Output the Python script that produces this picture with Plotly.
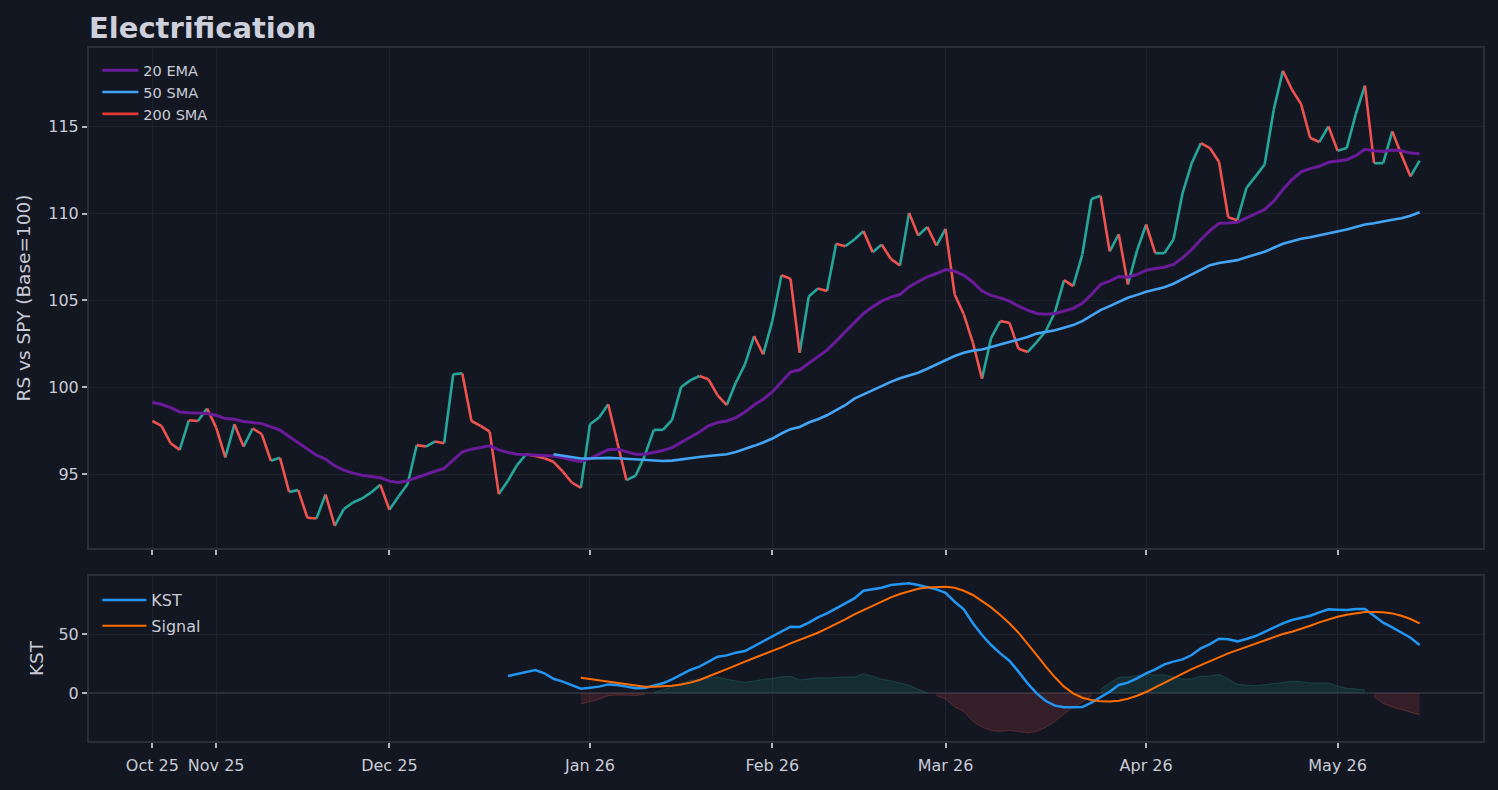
import plotly.graph_objects as go
from plotly.subplots import make_subplots

# Trading-day index, Oct 23 2025 .. May 14 2026
tick_pos = [0, 7, 26, 48, 68, 87, 109, 130]
tick_labels = ['Oct 25', 'Nov 25', 'Dec 25', 'Jan 26', 'Feb 26', 'Mar 26', 'Apr 26', 'May 26']

# Relative strength vs SPY (base = 100)
rs = [98.06, 97.78, 96.78, 96.40, 98.10, 98.06, 98.78, 97.68, 95.96, 97.87,
      96.59, 97.63, 97.30, 95.77, 95.94, 93.98, 94.08, 92.49, 92.45, 93.83,
      92.03, 92.99, 93.37, 93.60, 93.95, 94.39, 92.95, 93.72, 94.43, 96.67,
      96.59, 96.88, 96.78, 100.75, 100.80, 98.06, 97.78, 97.45, 93.85, 94.62,
      95.52, 96.15, 96.05, 95.92, 95.71, 95.16, 94.52, 94.21, 97.87, 98.26,
      99.02, 96.82, 94.66, 94.91, 96.05, 97.55, 97.55, 98.12, 100.02, 100.40,
      100.65, 100.46, 99.54, 98.98, 100.27, 101.32, 102.95, 101.90, 103.81, 106.45,
      106.25, 101.99, 105.23, 105.69, 105.54, 108.26, 108.12, 108.51, 108.99, 107.78,
      108.22, 107.39, 107.01, 110.04, 108.74, 109.23, 108.16, 109.12, 105.34, 104.20,
      102.57, 100.50, 102.85, 103.81, 103.72, 102.22, 102.03, 102.60, 103.24, 104.33,
      106.17, 105.82, 107.64, 110.84, 111.03, 107.83, 108.81, 105.92, 107.87, 109.37,
      107.72, 107.72, 108.51, 111.18, 112.90, 114.05, 113.77, 112.97, 109.79, 109.62,
      111.47, 112.14, 112.82, 115.98, 118.22, 117.13, 116.30, 114.35, 114.12, 115.02,
      113.62, 113.77, 115.73, 117.36, 112.90, 112.90, 114.73, 113.39, 112.14, 113.05]

ema20 = [99.12, 99.02, 98.83, 98.58, 98.54, 98.51, 98.49, 98.39, 98.20, 98.16,
         98.03, 97.97, 97.91, 97.72, 97.53, 97.17, 96.82, 96.44, 96.09, 95.86,
         95.48, 95.23, 95.06, 94.94, 94.85, 94.79, 94.60, 94.52, 94.62, 94.81,
         95.00, 95.17, 95.33, 95.82, 96.28, 96.44, 96.53, 96.63, 96.40, 96.25,
         96.15, 96.13, 96.11, 96.09, 96.05, 95.96, 95.82, 95.73, 95.90, 96.15,
         96.40, 96.44, 96.28, 96.15, 96.15, 96.25, 96.36, 96.53, 96.82, 97.11,
         97.43, 97.78, 97.97, 98.06, 98.26, 98.58, 98.98, 99.31, 99.73, 100.30,
         100.88, 101.01, 101.40, 101.80, 102.14, 102.66, 103.18, 103.72, 104.25, 104.63,
         104.96, 105.19, 105.34, 105.79, 106.07, 106.36, 106.55, 106.78, 106.69, 106.44,
         106.05, 105.54, 105.29, 105.15, 104.96, 104.67, 104.44, 104.25, 104.20, 104.25,
         104.39, 104.54, 104.83, 105.34, 105.92, 106.11, 106.38, 106.34, 106.49, 106.74,
         106.84, 106.91, 107.07, 107.45, 107.93, 108.51, 109.02, 109.44, 109.46, 109.50,
         109.75, 109.98, 110.23, 110.71, 111.38, 111.95, 112.40, 112.59, 112.72, 112.95,
         113.01, 113.10, 113.33, 113.70, 113.62, 113.58, 113.66, 113.62, 113.48, 113.45]

sma50 = [None] * 44 + [
    96.15, 96.07, 95.99, 95.90, 95.90, 95.94, 95.94, 95.92, 95.88, 95.84,
    95.80, 95.78, 95.76, 95.78, 95.86, 95.92, 95.99, 96.05, 96.09, 96.15,
    96.28, 96.44, 96.63, 96.82, 97.05, 97.34, 97.59, 97.72, 97.97, 98.16,
    98.39, 98.68, 98.97, 99.35, 99.60, 99.85, 100.08, 100.31, 100.52, 100.69,
    100.84, 101.07, 101.32, 101.55, 101.80, 101.99, 102.11, 102.18, 102.32, 102.47,
    102.60, 102.76, 102.89, 103.09, 103.18, 103.28, 103.43, 103.58, 103.81, 104.14,
    104.44, 104.67, 104.90, 105.15, 105.32, 105.50, 105.63, 105.76, 105.96, 106.23,
    106.49, 106.78, 107.03, 107.16, 107.26, 107.32, 107.49, 107.64, 107.80, 108.03,
    108.26, 108.41, 108.55, 108.64, 108.74, 108.85, 108.95, 109.08, 109.23, 109.37,
    109.44, 109.52, 109.64, 109.73, 109.87, 110.08]

sma200 = [None] * 140  # not enough history yet

kst = [None] * 39 + [
    14.4, 16.1, 18.4, 19.5, 16.7, 12.1, 9.6, 6.8, 3.7, 4.5,
    5.4, 7.3, 6.8, 5.4, 4.0, 4.2, 5.9, 8.2, 11.6, 15.3,
    19.5, 22.3, 26.3, 30.8, 31.9, 34.2, 35.6, 39.8, 44.1, 47.7,
    52.5, 56.2, 56.0, 59.6, 64.1, 67.5, 71.8, 76.0, 80.2, 86.7,
    88.1, 89.3, 91.5, 92.1, 93.0, 91.5, 89.5, 87.9, 85.0, 77.4,
    71.0, 59.1, 49.2, 40.7, 33.6, 27.4, 18.1, 8.2, -0.3, -6.8,
    -10.7, -12.1, -12.1, -11.9, -8.2, -3.7, 1.1, 6.8, 8.8, 12.4,
    16.7, 20.1, 24.3, 26.6, 28.5, 32.2, 37.9, 41.5, 46.0, 45.5,
    43.8, 45.8, 48.3, 51.9, 55.6, 59.1, 61.9, 63.8, 65.5, 68.4,
    70.9, 70.6, 70.3, 71.2, 71.2, 65.5, 59.6, 55.6, 51.4, 46.9,
    40.7]

signal = [None] * 47 + [
    13.0, 11.9, 10.7, 9.6, 8.5, 7.3, 6.2, 5.4, 5.4, 5.6,
    6.2, 7.3, 8.8, 11.0, 13.8, 17.2, 20.3, 23.7, 26.6, 29.7,
    32.5, 35.3, 38.7, 42.1, 44.9, 47.7, 51.1, 54.8, 58.5, 62.4,
    66.7, 70.3, 74.0, 77.7, 81.1, 83.9, 86.4, 88.4, 89.5, 90.1,
    90.1, 89.3, 86.7, 83.1, 78.2, 72.6, 66.1, 59.1, 51.1, 42.1,
    32.2, 22.3, 13.3, 5.4, -0.3, -4.0, -5.9, -7.1, -7.3, -6.5,
    -4.8, -2.3, 0.8, 4.8, 8.8, 13.0, 16.7, 20.3, 23.7, 27.1,
    30.2, 33.6, 36.4, 39.2, 42.1, 44.9, 47.7, 50.0, 51.9, 54.2,
    57.0, 59.9, 62.4, 64.7, 66.4, 67.8, 68.6, 68.6, 68.4, 67.5,
    65.5, 62.7, 59.1]

idx = list(range(len(rs)))

BG = '#131722'
FRAME = '#2a2e39'
GRID = '#1e222d'
TEXT = '#c9ccd6'
UP = '#26a69a'
DOWN = '#ef5350'

fig = make_subplots(rows=2, cols=1, shared_xaxes=True,
                    row_heights=[500, 165], vertical_spacing=28 / 693)

# price line coloured by direction of each step
up_x, up_y, dn_x, dn_y = [], [], [], []
for i in range(len(rs) - 1):
    if rs[i + 1] >= rs[i]:
        up_x += [idx[i], idx[i + 1], None]
        up_y += [rs[i], rs[i + 1], None]
    else:
        dn_x += [idx[i], idx[i + 1], None]
        dn_y += [rs[i], rs[i + 1], None]

fig.add_trace(go.Scatter(x=up_x, y=up_y, mode='lines', line=dict(color=UP, width=2.6),
                         showlegend=False, hoverinfo='skip'), row=1, col=1)
fig.add_trace(go.Scatter(x=dn_x, y=dn_y, mode='lines', line=dict(color=DOWN, width=2.6),
                         showlegend=False, hoverinfo='skip'), row=1, col=1)
fig.add_trace(go.Scatter(x=idx, y=ema20, mode='lines', name='20 EMA',
                         line=dict(color='#6a1b9a', width=3), legend='legend'), row=1, col=1)
fig.add_trace(go.Scatter(x=idx, y=sma50, mode='lines', name='50 SMA',
                         line=dict(color='#42a5f5', width=2.6), legend='legend'), row=1, col=1)
fig.add_trace(go.Scatter(x=idx, y=sma200, mode='lines', name='200 SMA',
                         line=dict(color='#e53935', width=2.6), legend='legend'), row=1, col=1)

# KST histogram (KST - signal): one filled run per stretch of equal sign
hist = [None if k is None or s is None else k - s for k, s in zip(kst, signal)]
runs = []
for i, h in enumerate(hist):
    if h is None:
        continue
    sign = h >= 0
    if runs and runs[-1][0] == sign and runs[-1][1][-1] == i - 1:
        runs[-1][1].append(i)
    else:
        runs.append((sign, [i]))

for sign, pts in runs:
    rgb = '38,166,154' if sign else '239,83,80'
    fig.add_trace(go.Scatter(x=[idx[i] for i in pts], y=[hist[i] for i in pts],
                             mode='lines', fill='tozeroy',
                             fillcolor=f'rgba({rgb},0.15)',
                             line=dict(color=f'rgba({rgb},0.25)', width=1),
                             showlegend=False, hoverinfo='skip'), row=2, col=1)

fig.add_trace(go.Scatter(x=idx, y=kst, mode='lines', name='KST', legendgroup='kst',
                         line=dict(color='#2196f3', width=2.5), legend='legend2'), row=2, col=1)
fig.add_trace(go.Scatter(x=idx, y=signal, mode='lines', name='Signal', legendgroup='sig',
                         line=dict(color='#ff6d00', width=2), legend='legend2'), row=2, col=1)

axis_common = dict(showline=True, linecolor=FRAME, linewidth=2, mirror=True,
                   showgrid=True, gridcolor=GRID, gridwidth=1,
                   ticks='outside', ticklen=5, tickwidth=1.5, tickcolor='#b2b5be',
                   tickfont=dict(size=16, color=TEXT), zeroline=False)

fig.update_xaxes(**axis_common, range=[-6.95, 145.95],
                 tickmode='array', tickvals=tick_pos, ticktext=tick_labels)
fig.update_xaxes(showticklabels=False, row=1, col=1)
fig.update_xaxes(ticklabelstandoff=4, row=2, col=1)
fig.update_yaxes(**axis_common)
fig.update_yaxes(range=[90.75, 119.53], tickvals=[95, 100, 105, 110, 115],
                 title=dict(text='RS vs SPY (Base=100)', font=dict(size=18.5, color=TEXT), standoff=13),
                 row=1, col=1)
fig.update_yaxes(range=[-40.7, 99.2], tickvals=[0, 50],
                 zeroline=True, zerolinecolor=FRAME, zerolinewidth=2,
                 title=dict(text='KST', font=dict(size=18.5, color=TEXT), standoff=10),
                 row=2, col=1)

fig.update_layout(
    width=1498, height=790, autosize=False,
    paper_bgcolor=BG, plot_bgcolor=BG,
    font=dict(family='DejaVu Sans', color=TEXT),
    margin=dict(l=89, r=15, t=48, b=49),
    title=dict(text='<b>Electrification</b>', x=89 / 1498, xanchor='left',
               y=1 - 28 / 790, yanchor='middle',
               font=dict(size=29, color='#cdd0da')),
    legend=dict(x=0.006, y=0.991, xanchor='left', yanchor='top', itemwidth=36,
                bgcolor='rgba(0,0,0,0)', font=dict(size=14.5, color=TEXT)),
    legend2=dict(x=0.006, y=0.228, xanchor='left', yanchor='top', tracegroupgap=2,
                 itemwidth=44,
                 bgcolor='rgba(0,0,0,0)', font=dict(size=16, color=TEXT)),
    hovermode=False,
)

fig.write_html("out.html", config={'displayModeBar': False},
               post_script="document.body.style.margin='0';"
                           "document.body.style.background='#131722';")
